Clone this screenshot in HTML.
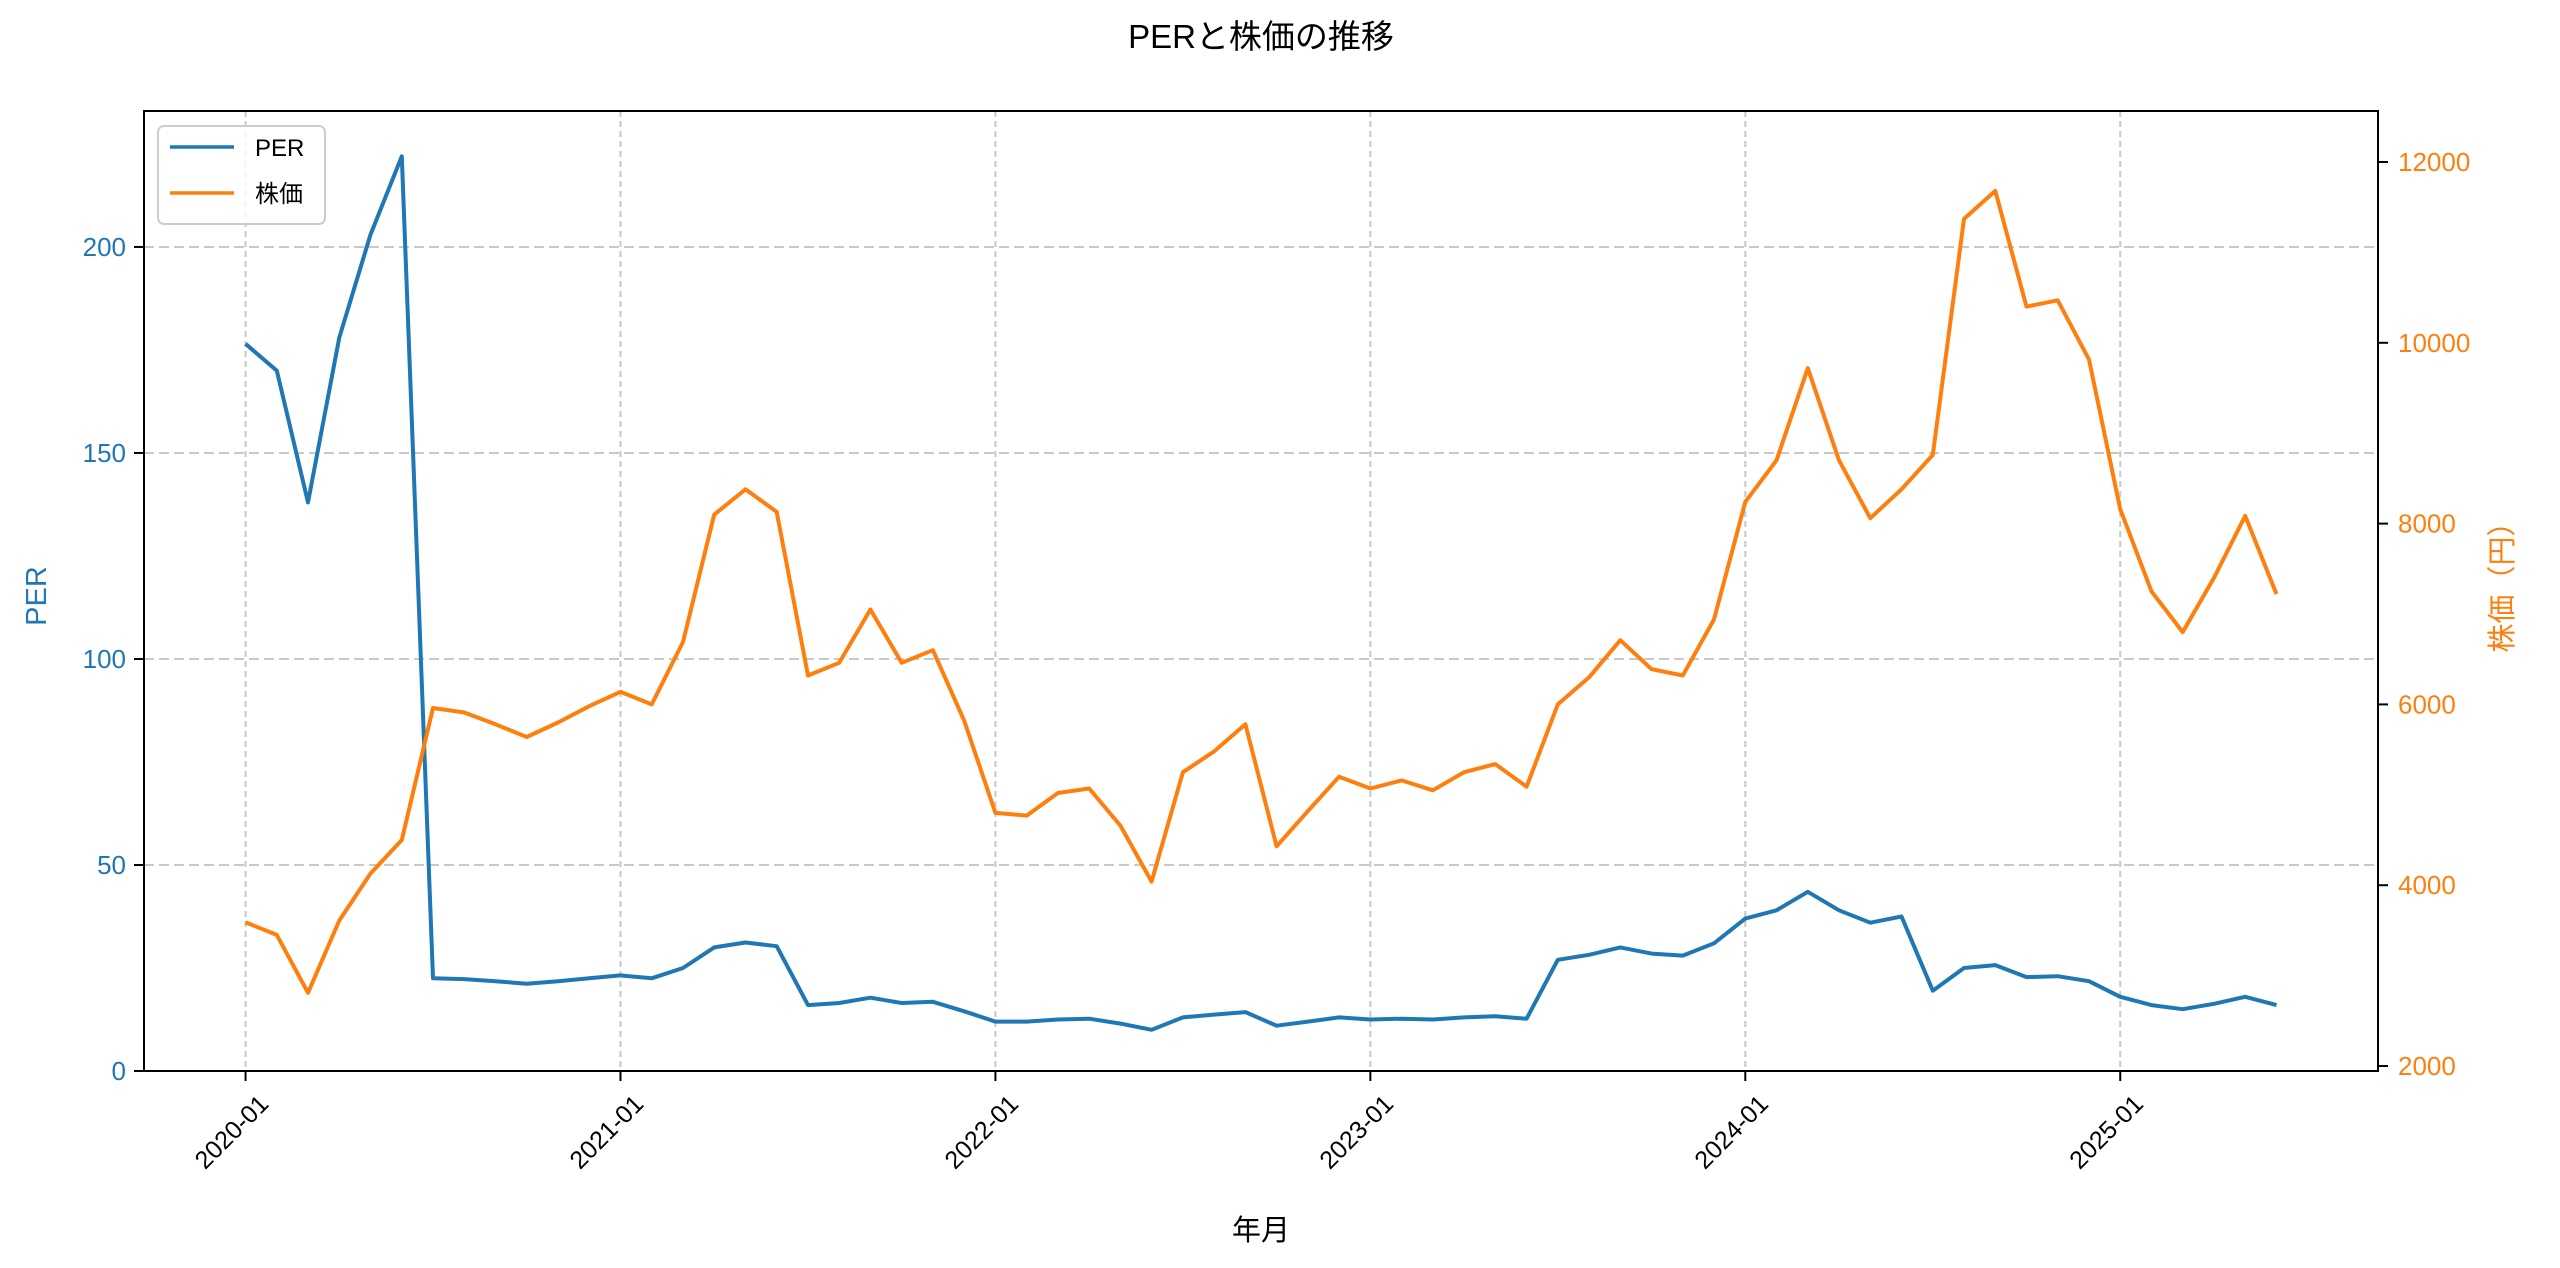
<!DOCTYPE html>
<html><head><meta charset="utf-8"><style>
html,body{margin:0;padding:0;background:#fff;}
svg{display:block;font-family:"Liberation Sans","Noto Sans CJK JP",sans-serif;}
</style></head><body>
<svg id="chart" width="2560" height="1268" viewBox="0 0 2560 1268" xmlns="http://www.w3.org/2000/svg">
<text x="1261" y="48" font-size="33" text-anchor="middle" font-family="Liberation Sans, Noto Sans CJK JP, sans-serif">PERと株価の推移</text>
<g id="grid"></g>
<g id="series"></g>
<rect x="144" y="111" width="2234" height="960" fill="none" stroke="#000" stroke-width="2"/>
<g id="axes"></g>
<text x="1261" y="1240" font-size="29" text-anchor="middle">年月</text>
<text transform="translate(46,596) rotate(-90)" font-size="29" text-anchor="middle" fill="#1f77b4">PER</text>
<text transform="translate(2512,580) rotate(-90)" font-size="29" text-anchor="middle" fill="#ff7f0e">株価（円）</text>
<g>
<rect x="158" y="126" width="167" height="98" rx="6" fill="#fff" fill-opacity="0.8" stroke="#ccc" stroke-width="2"/>
<line x1="170" y1="147" x2="234" y2="147" stroke="#1f77b4" stroke-width="3.5"/>
<text x="255" y="156" font-size="24">PER</text>
<line x1="170" y1="193" x2="234" y2="193" stroke="#ff7f0e" stroke-width="3.5"/>
<text x="255" y="202" font-size="24">株価</text>
</g>
</svg>
<script>
const perValues=[176.5,170,138,178,203,222,22.5,22.3,21.8,21.2,21.8,22.5,23.2,22.5,25,30,31.2,30.3,16,16.5,17.8,16.5,16.8,14.5,12,12,12.5,12.7,11.5,10,13,13.7,14.3,11,12,13,12.5,12.7,12.5,13,13.3,12.7,27,28.2,30,28.5,28,31,37,39,43.5,39,36,37.5,19.5,25,25.7,22.8,23,21.8,18,16,15,16.3,18,16];
const priceValues=[3590,3450,2810,3610,4130,4500,5960,5910,5780,5640,5800,5980,6140,6000,6690,8100,8380,8130,6320,6460,7050,6460,6600,5820,4800,4770,5020,5070,4660,4040,5250,5480,5780,4430,4820,5200,5070,5160,5050,5250,5340,5090,6000,6300,6710,6390,6320,6940,8240,8700,9720,8700,8060,8380,8760,11370,11680,10400,10470,9815,8160,7250,6800,7400,8085,7220];
const xTickLabels=["2020-01","2021-01","2022-01","2023-01","2024-01","2025-01"];
const xTickMonths=[0,12,24,36,48,60];
const perTicks=[0,50,100,150,200];
const priceTicks=[2000,4000,6000,8000,10000,12000];

const L=144,R=2378,T=111,B=1071;
const n=perValues.length;
const span=(n-1);
const x=i=>L+(R-L)*(i+span*0.05)/(span*1.1);
const yPer=v=>B-(B-T)*(v-0)/(233);
const yPrice=v=>B-(B-T)*(v-1945)/(12564-1945);
const NS="http://www.w3.org/2000/svg";
function mk(tag,attrs,parent){const e=document.createElementNS(NS,tag);for(const k in attrs)e.setAttribute(k,attrs[k]);parent.appendChild(e);return e;}
const grid=document.getElementById('grid'),axes=document.getElementById('axes'),series=document.getElementById('series');

xTickMonths.forEach((m,i)=>{
  const gx=x(m);
  const g=mk('line',{x1:gx,y1:T,x2:gx,y2:B,stroke:'#c8c8c8','stroke-width':2,'stroke-dasharray':'6,4'},grid);
  
  
  const t=mk('line',{x1:gx,y1:B,x2:gx,y2:B+10,stroke:'#000','stroke-width':2},axes);
  
  
  const lb=mk('text',{transform:`translate(${gx+12},${B+22}) rotate(-45)`,'font-size':25,'text-anchor':'end','dominant-baseline':'hanging'},axes);
  lb.textContent=xTickLabels[i];
  
  
});
perTicks.forEach(v=>{
  const gy=yPer(v);
  const g=mk('line',{x1:L,y1:gy,x2:R,y2:gy,stroke:'#c8c8c8','stroke-width':2,'stroke-dasharray':'10,5'},grid);
  
  
  const t=mk('line',{x1:L-10,y1:gy,x2:L,y2:gy,stroke:'#000','stroke-width':2},axes);
  
  
  const lb=mk('text',{x:L-18,y:gy+9,'font-size':26,'text-anchor':'end',fill:'#1f77b4'},axes);
  lb.textContent=String(v);
  
  
});
priceTicks.forEach(v=>{
  const gy=yPrice(v);
  const t=mk('line',{x1:R,y1:gy,x2:R+10,y2:gy,stroke:'#000','stroke-width':2},axes);
  
  
  const lb=mk('text',{x:R+20,y:gy+9,'font-size':26,'text-anchor':'start',fill:'#ff7f0e'},axes);
  lb.textContent=String(v);
  
  
});
const perPts=perValues.map((v,i)=>x(i).toFixed(1)+','+yPer(v).toFixed(1)).join(' ');
const pl=mk('polyline',{points:perPts,fill:'none',stroke:'#1f77b4','stroke-width':4,'stroke-linejoin':'round'},series);


const prPts=priceValues.map((v,i)=>x(i).toFixed(1)+','+yPrice(v).toFixed(1)).join(' ');
const pr=mk('polyline',{points:prPts,fill:'none',stroke:'#ff7f0e','stroke-width':4,'stroke-linejoin':'round'},series);


</script>
</body></html>
